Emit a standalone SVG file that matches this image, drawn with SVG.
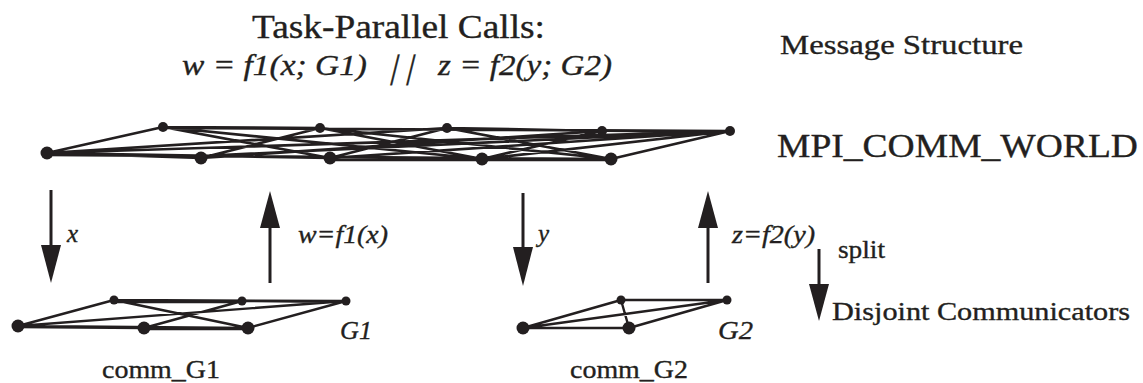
<svg xmlns="http://www.w3.org/2000/svg" width="1143" height="383" viewBox="0 0 1143 383">
<style>
.t{font-family:"Liberation Serif","DejaVu Serif",serif;fill:#231f20;stroke:#231f20;stroke-width:0.35}
.i{font-style:italic}
.e{stroke:#231f20;stroke-width:2.7;fill:none;stroke-linecap:round}
.g{stroke:#231f20;stroke-width:2.4;fill:none;stroke-linecap:round}
.s{stroke:#231f20;stroke-width:3;fill:none}
.n{fill:#231f20}
.h{fill:#231f20}
</style>
<rect width="1143" height="383" fill="#fff"/>
<g id="title">
<text class="t" x="252" y="38" font-size="33" textLength="293" lengthAdjust="spacingAndGlyphs">Task-Parallel Calls:</text>
<text class="t i" x="182" y="75" font-size="30" textLength="185" lengthAdjust="spacingAndGlyphs">w = f1(x; G1)</text>
<text class="t" x="409" y="78" font-size="34" transform="skewX(-14)">|</text>
<text class="t" x="425" y="78" font-size="34" transform="skewX(-14)">|</text>
<text class="t i" x="438" y="75" font-size="30" textLength="174" lengthAdjust="spacingAndGlyphs">z = f2(y; G2)</text>
</g>
<g id="legend">
<text class="t" x="780" y="54" font-size="28" textLength="243" lengthAdjust="spacingAndGlyphs">Message Structure</text>
<text class="t" x="777" y="157" font-size="33" textLength="361" lengthAdjust="spacingAndGlyphs">MPI_COMM_WORLD</text>
<text class="t" x="838" y="258" font-size="25" textLength="47" lengthAdjust="spacingAndGlyphs">split</text>
<text class="t" x="832" y="320" font-size="25" textLength="298" lengthAdjust="spacingAndGlyphs">Disjoint Communicators</text>
</g>
<g id="connectors">
<line class="s" x1="51" y1="190" x2="51" y2="250"/>
<polygon class="h" points="41,245 61,245 51,283"/>
<line class="s" x1="270" y1="222" x2="270" y2="283"/>
<polygon class="h" points="260,228 280,228 270,191"/>
<line class="s" x1="523" y1="193" x2="523" y2="252"/>
<polygon class="h" points="513,247 533,247 523,286"/>
<line class="s" x1="708" y1="222" x2="708" y2="283"/>
<polygon class="h" points="698,228 718,228 708,191"/>
<line class="s" x1="819" y1="249" x2="819" y2="290"/>
<polygon class="h" points="809,284 829,284 819,321"/>
<text class="t i" x="67" y="242" font-size="25">x</text>
<text class="t i" x="298" y="243" font-size="25" textLength="90" lengthAdjust="spacingAndGlyphs">w=f1(x)</text>
<text class="t i" x="538" y="242" font-size="25">y</text>
<text class="t i" x="732" y="243" font-size="25" textLength="83" lengthAdjust="spacingAndGlyphs">z=f2(y)</text>
</g>
<g id="world">
<path class="e" d="M47,153 L163,127 M47,153 L201,158 M47,153 L330,158 M47,155 L611,159 M47,153 L447,128 M47,153 L730,131 M163,127 L320,128 M163,128 L730,131 M163,127 L330,158 M163,127 L482,159 M201,158 L320,128 M201,158 L602,131 M201,156 L730,131 M320,128 L482,159 M320,128 L611,159 M330,158 L447,128 M330,158 L730,131 M447,128 L611,159 M447,128 L602,131 M482,159 L602,131 M482,159 L730,131 M611,159 L730,131 M330,160 L611,160 M447,129 L730,132"/>
<circle class="n" cx="47" cy="153" r="6.5"/>
<circle class="n" cx="163" cy="127" r="5"/>
<circle class="n" cx="201" cy="158" r="6.5"/>
<circle class="n" cx="320" cy="128" r="5"/>
<circle class="n" cx="330" cy="158" r="6.5"/>
<circle class="n" cx="447" cy="128" r="5"/>
<circle class="n" cx="482" cy="159" r="6.5"/>
<circle class="n" cx="602" cy="131" r="5"/>
<circle class="n" cx="611" cy="159" r="6.5"/>
<circle class="n" cx="730" cy="131" r="5"/>
</g>
<g id="G1">
<path class="g" d="M18,326 L114,300 M18,326 L248,328 M18,327 L144,328 M18,326 L346,301 M114,300 L346,301 M114,302 L242,302 M114,300 L248,328 M144,328 L242,301 M144,329 L248,329 M248,328 L346,301 M242,301 L346,302"/>
<circle class="n" cx="18" cy="326" r="6.5"/>
<circle class="n" cx="114" cy="300" r="4.5"/>
<circle class="n" cx="144" cy="328" r="6.5"/>
<circle class="n" cx="242" cy="301" r="4.5"/>
<circle class="n" cx="248" cy="328" r="6.5"/>
<circle class="n" cx="346" cy="301" r="4.5"/>
<text class="t i" x="340" y="339" font-size="25" textLength="32" lengthAdjust="spacingAndGlyphs">G1</text>
<text class="t" x="102" y="378" font-size="25" textLength="118" lengthAdjust="spacingAndGlyphs">comm_G1</text>
</g>
<g id="G2">
<path class="g" d="M523,328 L621,300 M523,328 L629,328 M523,328 L727,300 M621,300 L727,300 M621,300 L629,328 M629,328 L727,300"/>
<circle class="n" cx="523" cy="328" r="6.5"/>
<circle class="n" cx="621" cy="300" r="4.5"/>
<circle class="n" cx="629" cy="328" r="6.5"/>
<circle class="n" cx="727" cy="300" r="4.5"/>
<text class="t i" x="718" y="339" font-size="25" textLength="35" lengthAdjust="spacingAndGlyphs">G2</text>
<text class="t" x="570" y="378" font-size="25" textLength="118" lengthAdjust="spacingAndGlyphs">comm_G2</text>
</g>
</svg>
